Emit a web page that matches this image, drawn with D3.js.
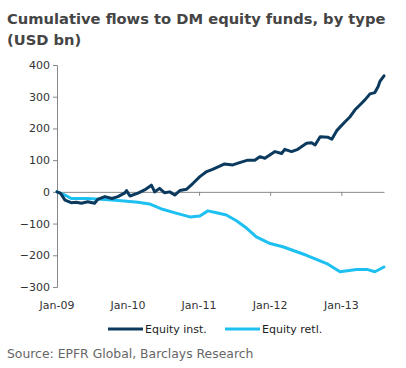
<!DOCTYPE html>
<html><head><meta charset="utf-8">
<script src="https://cdn.jsdelivr.net/npm/d3@7"></script>
<style>body{margin:0;background:#fff}svg{display:block}</style>
</head><body>
<script>
const title = ["Cumulative flows to DM equity funds, by type", "(USD bn)"];
const source = "Source: EPFR Global, Barclays Research";
const seriesNames = ["Equity inst.", "Equity retl."];
const yTicks = [-300, -200, -100, 0, 100, 200, 300, 400];
const xTickDates = ["2009-01-01", "2010-01-01", "2011-01-01", "2012-01-01", "2013-01-01"];
const xTickLabels = ["Jan-09", "Jan-10", "Jan-11", "Jan-12", "Jan-13"];

const instDates = ["2009-01-01","2009-01-20","2009-02-11","2009-03-15","2009-04-10","2009-05-06","2009-06-08","2009-07-13","2009-07-29","2009-09-04","2009-10-10","2009-11-10","2009-12-16","2009-12-24","2010-01-11","2010-02-21","2010-03-27","2010-05-01","2010-05-18","2010-06-12","2010-07-08","2010-08-03","2010-08-29","2010-09-24","2010-10-28","2010-12-01","2011-01-05","2011-02-09","2011-03-11","2011-04-17","2011-05-12","2011-06-23","2011-07-28","2011-09-08","2011-10-14","2011-11-09","2011-12-05","2012-01-26","2012-02-29","2012-03-16","2012-04-20","2012-05-22","2012-07-06","2012-08-01","2012-08-19","2012-09-14","2012-10-25","2012-11-13","2012-12-08","2013-01-20","2013-02-15","2013-03-11","2013-04-06","2013-05-02","2013-05-28","2013-06-22","2013-07-09","2013-07-18","2013-08-08"];
const instValues = [0,-5,-26,-34,-33,-36,-31,-36,-24,-15,-21,-15,-3,4,-13,-4,6,21,0,11,-3,0,-10,4,8,27,48,64,71,81,88,85,92,100,100,111,106,127,121,134,127,134,153,155,148,174,172,166,193,221,237,258,274,290,309,313,332,348,366];

const retlDates = ["2009-01-01","2009-02-11","2009-03-15","2009-06-08","2009-09-04","2009-11-28","2010-02-21","2010-04-21","2010-06-27","2010-09-09","2010-11-15","2011-01-05","2011-02-15","2011-04-01","2011-05-21","2011-07-12","2011-09-03","2011-10-22","2012-01-01","2012-03-06","2012-07-06","2012-10-18","2012-12-25","2013-03-20","2013-05-17","2013-06-22","2013-08-08"];
const retlValues = [0,-10,-21,-21,-24,-28,-33,-38,-55,-68,-79,-76,-60,-66,-73,-91,-115,-142,-163,-173,-200,-226,-252,-245,-245,-252,-237];

const colors = ["#0b3a5e", "#1ec0f2"];
const W = 406, H = 368;
const parse = d3.utcParse("%Y-%m-%d");
const svg = d3.select("body").append("svg").attr("width", W).attr("height", H);

const x = d3.scaleUtc().domain([parse("2009-01-01"), parse("2013-08-08")]).range([57, 384]);
const y = d3.scaleLinear().domain([-300, 400]).range([287, 65]);

// title
svg.append("g").selectAll("text").data(title).join("text")
  .attr("x", 7).attr("y", (d, i) => 24 + i * 21)
  .attr("font-family", "DejaVu Sans").attr("font-weight", "bold").attr("font-size", 14.7)
  .attr("fill", "#454545").text(d => d);

// y axis
const yAxis = svg.append("g").attr("transform", "translate(57,0)")
  .call(d3.axisLeft(y).tickValues(yTicks).tickSize(4).tickPadding(3).tickFormat(d3.format("d")));
yAxis.select(".domain").attr("stroke", "#888");
yAxis.selectAll(".tick line").attr("stroke", "#888");
yAxis.selectAll("text").attr("font-family", "DejaVu Sans").attr("font-size", 11).attr("fill", "#333");

// zero axis with ticks
const xAxis = svg.append("g").attr("transform", `translate(0,${y(0)})`)
  .call(d3.axisBottom(x).tickValues(xTickDates.map(parse)).tickSize(4).tickSizeOuter(0).tickFormat(""));
xAxis.select(".domain").attr("stroke", "#888");
xAxis.selectAll(".tick line").attr("stroke", "#888");

// x labels at bottom
svg.append("g").selectAll("text").data(xTickDates).join("text")
  .attr("x", d => x(parse(d))).attr("y", 309).attr("text-anchor", "middle")
  .attr("font-family", "DejaVu Sans").attr("font-size", 11).attr("fill", "#333")
  .text((d, i) => xTickLabels[i]);

const line = d3.line().x(d => x(d[0])).y(d => y(d[1])).curve(d3.curveLinear);
const series = [
  instDates.map((d, i) => [parse(d), instValues[i]]),
  retlDates.map((d, i) => [parse(d), retlValues[i]])
];
[1, 0].forEach(k => {
  svg.append("path").datum(series[k]).attr("d", line)
    .attr("fill", "none").attr("stroke", colors[k]).attr("stroke-width", 3)
    .attr("stroke-linejoin", "round").attr("stroke-linecap", "round");
});

// legend
const legX = [108, 225];
const leg = svg.append("g");
seriesNames.forEach((n, i) => {
  leg.append("line").attr("x1", legX[i]).attr("x2", legX[i] + 35).attr("y1", 329).attr("y2", 329)
    .attr("stroke", colors[i]).attr("stroke-width", 3);
  leg.append("text").attr("x", legX[i] + 37).attr("y", 333)
    .attr("font-family", "DejaVu Sans").attr("font-size", 11).attr("fill", "#222").text(n);
});

// source
svg.append("text").attr("x", 7).attr("y", 358)
  .attr("font-family", "DejaVu Sans").attr("font-size", 12.4).attr("fill", "#666").text(source);
</script>
</body></html>
